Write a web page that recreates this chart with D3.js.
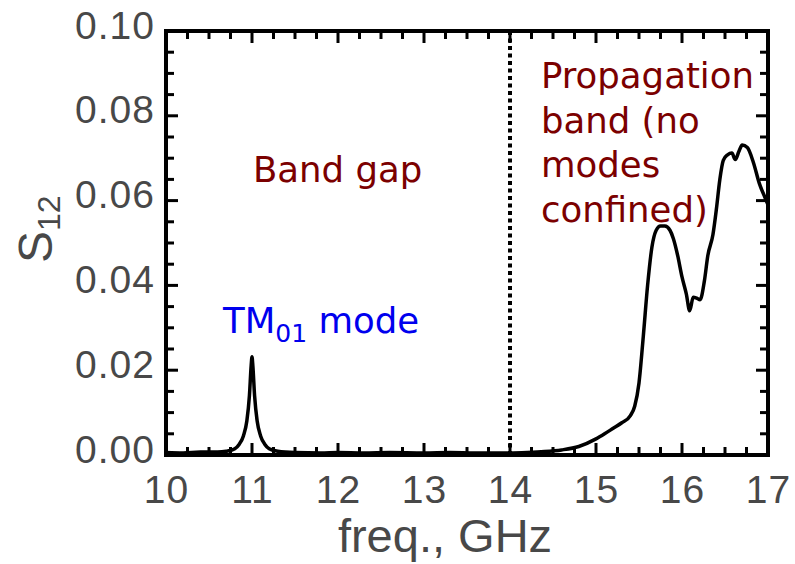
<!DOCTYPE html>
<html>
<head>
<meta charset="utf-8">
<script src="https://cdn.jsdelivr.net/npm/d3@7"></script>
<style>
  html, body { margin: 0; padding: 0; background: #fff; }
  svg { display: block; }
</style>
</head>
<body>
<svg id="chart" width="795" height="564"></svg>
<script>
// ---- data ----
const freq = [10.0, 10.2, 10.4, 10.6, 10.7, 10.8, 10.85, 10.9, 10.94, 10.97, 10.99, 11.0, 11.01, 11.03, 11.06, 11.1, 11.15, 11.2, 11.3, 11.5, 11.8, 12.0, 12.3, 12.6, 13.0, 13.3, 13.6, 14.0, 14.2, 14.4, 14.6, 14.8, 15.0, 15.1, 15.2, 15.3, 15.4, 15.45, 15.5, 15.55, 15.6, 15.65, 15.7, 15.75, 15.8, 15.86, 15.9, 15.95, 16.0, 16.05, 16.09, 16.13, 16.17, 16.21, 16.26, 16.3, 16.36, 16.4, 16.44, 16.48, 16.53, 16.58, 16.62, 16.66, 16.7, 16.76, 16.83, 16.9, 16.97, 17.0];
const s12 = [0.0006, 0.0005, 0.0007, 0.0007, 0.0009, 0.0015, 0.0025, 0.0045, 0.008, 0.014, 0.021, 0.0232, 0.021, 0.014, 0.008, 0.0045, 0.0025, 0.0015, 0.0009, 0.0006, 0.0005, 0.0006, 0.0005, 0.0006, 0.0005, 0.0006, 0.0005, 0.0005, 0.0006, 0.0008, 0.0012, 0.002, 0.0038, 0.005, 0.0063, 0.0076, 0.0093, 0.0115, 0.017, 0.028, 0.040, 0.049, 0.053, 0.054, 0.054, 0.053, 0.051, 0.047, 0.042, 0.038, 0.034, 0.0372, 0.037, 0.0366, 0.041, 0.047, 0.052, 0.058, 0.065, 0.0695, 0.0708, 0.0712, 0.0697, 0.0715, 0.0731, 0.0725, 0.069, 0.064, 0.0605, 0.059];
const xTicks = [10, 11, 12, 13, 14, 15, 16, 17];
const yTicks = [0.00, 0.02, 0.04, 0.06, 0.08, 0.10];
const bandEdge = [14];
const xTitle = "freq., GHz";
const yTitleMain = "S";
const yTitleSub = "12";
const propLines = ["Propagation", "band (no", "modes", "confined)"];

// ---- layout ----
const svg = d3.select("#chart");
const L = 166, T = 31, R = 768, B = 455;
const x = d3.scaleLinear().domain([10, 17]).range([L, R]);
const y = d3.scaleLinear().domain([0, 0.10]).range([B, T]);

const axisFont = "'Liberation Sans', Arial, Helvetica, sans-serif";
const annFont = "'DejaVu Sans', Verdana, sans-serif";
const axisColor = "#484848";

// minor/major ticks (inward) on all four sides
const xMinor = d3.range(10, 17.001, 0.25);
const yMinor = d3.range(0, 0.1001, 0.005);
const isMajorX = v => Math.abs(v - Math.round(v)) < 1e-6;
const isMajorY = v => Math.abs(v / 0.02 - Math.round(v / 0.02)) < 1e-6;
const tickG = svg.append("g").attr("stroke", "#000").attr("stroke-width", 3);
xMinor.forEach(v => {
  const len = isMajorX(v) ? 12 : 8;
  tickG.append("line").attr("x1", x(v)).attr("x2", x(v)).attr("y1", B).attr("y2", B - len);
  tickG.append("line").attr("x1", x(v)).attr("x2", x(v)).attr("y1", T).attr("y2", T + len);
});
yMinor.forEach(v => {
  const len = isMajorY(v) ? 12 : 8;
  tickG.append("line").attr("y1", y(v)).attr("y2", y(v)).attr("x1", L).attr("x2", L + len);
  tickG.append("line").attr("y1", y(v)).attr("y2", y(v)).attr("x1", R).attr("x2", R - len);
});

// axes labels via d3 axes (ticks hidden, only labels)
const xAxis = svg.append("g").attr("transform", `translate(0,${B})`)
  .call(d3.axisBottom(x).tickValues(xTicks).tickFormat(d3.format("d")).tickSize(0).tickPadding(0));
xAxis.select(".domain").remove();
xAxis.selectAll("text").attr("font-family", axisFont).attr("font-size", 39).attr("fill", axisColor)
  .attr("letter-spacing", 1).attr("dy", null).attr("y", 48);

const yAxis = svg.append("g").attr("transform", `translate(${L},0)`)
  .call(d3.axisLeft(y).tickValues(yTicks).tickFormat(d3.format(".2f")).tickSize(0).tickPadding(0));
yAxis.select(".domain").remove();
yAxis.selectAll("text").attr("font-family", axisFont).attr("font-size", 39).attr("fill", axisColor)
  .attr("letter-spacing", 1).attr("x", -11).attr("dy", null).attr("y", 7);

// dotted band edge
svg.selectAll(".edge").data(bandEdge).enter().append("line")
  .attr("x1", d => x(d)).attr("x2", d => x(d)).attr("y1", T).attr("y2", B)
  .attr("stroke", "#000").attr("stroke-width", 4).attr("stroke-dasharray", "4,3.5");

// curve
const pts = freq.map((f, i) => [f, s12[i]]);
svg.append("path").datum(pts)
  .attr("fill", "none").attr("stroke", "#000").attr("stroke-width", 3.5)
  .attr("stroke-linejoin", "round")
  .attr("d", d3.line().x(d => x(d[0])).y(d => y(d[1])).curve(d3.curveMonotoneX));

// frame
svg.append("rect").attr("x", L).attr("y", T).attr("width", R - L).attr("height", B - T)
  .attr("fill", "none").attr("stroke", "#000").attr("stroke-width", 4);

// axis titles
svg.append("text").attr("x", 445).attr("y", 552).attr("text-anchor", "middle")
  .attr("font-family", axisFont).attr("font-size", 47).attr("fill", axisColor).text(xTitle);

const yt = svg.append("text").attr("transform", "translate(52,263) rotate(-90)")
  .attr("font-family", axisFont).attr("fill", axisColor);
yt.append("tspan").attr("font-size", 48).text(yTitleMain);
yt.append("tspan").attr("font-size", 32).attr("dy", 8).text(yTitleSub);

// annotations
const darkRed = "#7b0000";
svg.append("text").attr("x", 253).attr("y", 182).attr("font-family", annFont)
  .attr("font-size", 35.5).attr("fill", darkRed).text("Band gap");

const pt = svg.append("text").attr("font-family", annFont).attr("font-size", 35.5).attr("fill", darkRed);
propLines.forEach((s, i) => {
  pt.append("tspan").attr("x", 541).attr("y", 88 + i * 44.5).text(s);
});

const tm = svg.append("text").attr("x", 223).attr("y", 333).attr("font-family", annFont)
  .attr("font-size", 35.5).attr("fill", "#0000ee");
tm.append("tspan").text("TM");
tm.append("tspan").attr("font-size", 25).attr("dy", 9).text("01");
tm.append("tspan").attr("dy", -9).text(" mode");
</script>
</body>
</html>
